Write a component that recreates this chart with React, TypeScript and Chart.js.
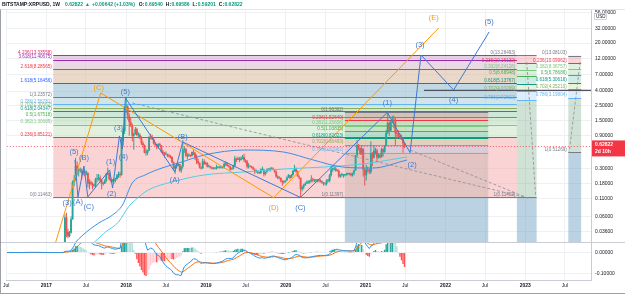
import { useEffect, useRef } from 'react';
import { Chart, registerables } from 'chart.js';

Chart.register(...registerables);

const FONT = 'Liberation Sans';
const TEXT = '#131722';
const UP = '#26a69a';
const DOWN = '#ef5350';
const WAVE_BLUE = '#3f78d0';
const WAVE_ORANGE = '#ff9800';

// ---- weekly XRPUSD bars (Bitstamp) ----
// Week 0 is Monday 2016-07-04; the first 35 weeks only warm up the MACD.
const FIRST_MONDAY = Date.UTC(2016, 6, 4);
const WEEK_MS = 7 * 86400000;

const WARMUP_CLOSES = [
  0.0065, 0.0063, 0.0062, 0.006, 0.006, 0.006, 0.0059, 0.006, 0.006, 0.0065, 0.007, 0.0082,
  0.0085, 0.0092, 0.0088, 0.0085, 0.0082, 0.008, 0.0078, 0.0076, 0.0074, 0.0072, 0.007, 0.0068,
  0.0066, 0.0064, 0.0065, 0.0066, 0.0066, 0.0065, 0.0064, 0.0063, 0.0063, 0.0064, 0.0064,
];

// 2017-03-06 … 2021-06-28
const WEEK_CLOSE = [
  // 2017
  0.0075, 0.0095, 0.015, 0.058, 0.036, 0.031, 0.035, 0.055, 0.19, 0.2, 0.33, 0.28, 0.28,
  0.28, 0.26, 0.27, 0.26, 0.26, 0.18, 0.19, 0.18, 0.17, 0.17, 0.21, 0.21, 0.22,
  0.2, 0.18, 0.18, 0.2, 0.25, 0.26, 0.21, 0.2, 0.2, 0.2, 0.21, 0.24, 0.25, 0.24, 0.75, 1.05, 2.3,
  // 2018
  2.4, 1.75, 1.42, 1.25, 0.9, 0.95, 1.12, 0.92, 0.92, 0.82, 0.7, 0.66, 0.51,
  0.51, 0.55, 0.85, 0.84, 0.79, 0.69, 0.66, 0.61, 0.68, 0.65, 0.53, 0.5, 0.48,
  0.48, 0.46, 0.45, 0.44, 0.37, 0.3, 0.33, 0.33, 0.35, 0.28, 0.32, 0.56, 0.58,
  0.46, 0.46, 0.47, 0.46, 0.52, 0.5, 0.44, 0.39, 0.36, 0.31, 0.3, 0.38, 0.35, 0.36,
  // 2019
  0.32, 0.32, 0.31, 0.3, 0.3, 0.3, 0.31, 0.31, 0.31, 0.31, 0.31, 0.35,
  0.35, 0.33, 0.32, 0.29, 0.3, 0.33, 0.42, 0.4, 0.42, 0.4, 0.42, 0.44, 0.4,
  0.38, 0.32, 0.33, 0.32, 0.31, 0.29, 0.27, 0.27, 0.26, 0.26, 0.29, 0.29, 0.25, 0.27,
  0.29, 0.29, 0.3, 0.3, 0.29, 0.27, 0.23, 0.22, 0.22, 0.2, 0.19, 0.19, 0.2,
  // 2020
  0.22, 0.24, 0.22, 0.24, 0.28, 0.3, 0.27, 0.23, 0.22, 0.15, 0.16, 0.17, 0.18,
  0.19, 0.19, 0.2, 0.21, 0.2, 0.2, 0.2, 0.21, 0.2, 0.19, 0.19, 0.18, 0.18,
  0.2, 0.2, 0.24, 0.29, 0.29, 0.3, 0.28, 0.28, 0.23, 0.24, 0.24, 0.24, 0.24,
  0.25, 0.25, 0.25, 0.24, 0.26, 0.28, 0.47, 0.65, 0.6, 0.5, 0.58, 0.29, 0.24,
  // 2021
  0.29, 0.28, 0.27, 0.5, 0.43, 0.55, 0.55, 0.43, 0.47, 0.44, 0.57, 0.52, 0.64,
  0.99, 1.38, 1.07, 1.45, 1.55, 1.45, 0.98, 0.96, 0.88, 0.86, 0.8, 0.6954, 0.62822,
];

const WEEK_HIGH = [
  // 2017
  0.008, 0.0105, 0.018, 0.065, 0.068, 0.04, 0.037, 0.06, 0.2, 0.24, 0.43, 0.38, 0.3,
  0.31, 0.3, 0.29, 0.28, 0.28, 0.26, 0.21, 0.2, 0.19, 0.18, 0.22, 0.25, 0.25,
  0.24, 0.21, 0.19, 0.21, 0.26, 0.31, 0.26, 0.22, 0.21, 0.22, 0.22, 0.25, 0.27, 0.27, 0.85, 1.15, 2.4,
  // 2018
  3.3, 2.5, 1.9, 1.62, 1.35, 1.0, 1.2, 1.17, 1.01, 0.98, 0.88, 0.74, 0.67,
  0.58, 0.56, 0.9, 0.96, 0.93, 0.86, 0.72, 0.66, 0.7, 0.71, 0.66, 0.56, 0.52,
  0.53, 0.49, 0.49, 0.47, 0.45, 0.38, 0.34, 0.35, 0.36, 0.35, 0.33, 0.78, 0.62,
  0.59, 0.5, 0.5, 0.48, 0.53, 0.56, 0.52, 0.48, 0.42, 0.37, 0.32, 0.42, 0.41, 0.38,
  // 2019
  0.37, 0.34, 0.33, 0.32, 0.31, 0.31, 0.34, 0.32, 0.32, 0.32, 0.32, 0.37,
  0.38, 0.37, 0.34, 0.33, 0.31, 0.34, 0.46, 0.43, 0.45, 0.44, 0.45, 0.47, 0.49,
  0.41, 0.4, 0.36, 0.33, 0.33, 0.32, 0.3, 0.29, 0.28, 0.27, 0.3, 0.32, 0.29, 0.27,
  0.3, 0.3, 0.31, 0.31, 0.31, 0.29, 0.28, 0.24, 0.23, 0.22, 0.2, 0.2, 0.2,
  // 2020
  0.23, 0.25, 0.24, 0.25, 0.28, 0.34, 0.31, 0.28, 0.24, 0.22, 0.17, 0.18, 0.19,
  0.2, 0.2, 0.2, 0.24, 0.22, 0.21, 0.21, 0.21, 0.21, 0.21, 0.2, 0.19, 0.18,
  0.21, 0.21, 0.25, 0.33, 0.31, 0.32, 0.32, 0.29, 0.29, 0.25, 0.26, 0.25, 0.25,
  0.26, 0.26, 0.26, 0.26, 0.26, 0.29, 0.47, 0.78, 0.68, 0.6, 0.65, 0.59, 0.3,
  // 2021
  0.34, 0.32, 0.3, 0.75, 0.52, 0.66, 0.6, 0.58, 0.5, 0.5, 0.6, 0.59, 0.66,
  1.1, 1.96, 1.45, 1.5, 1.75, 1.77, 1.63, 1.09, 1.08, 0.98, 0.93, 0.82, 0.69586,
];

const WEEK_LOW = [
  // 2017
  0.0063, 0.0072, 0.009, 0.014, 0.03, 0.029, 0.03, 0.034, 0.054, 0.165, 0.2, 0.24, 0.23,
  0.26, 0.21, 0.24, 0.23, 0.24, 0.16, 0.15, 0.17, 0.15, 0.16, 0.16, 0.19, 0.2,
  0.19, 0.15, 0.17, 0.18, 0.19, 0.24, 0.2, 0.19, 0.19, 0.18, 0.19, 0.21, 0.22, 0.22, 0.24, 0.65, 0.95,
  // 2018
  1.9, 1.55, 0.9, 1.2, 0.75, 0.56, 0.93, 0.88, 0.86, 0.8, 0.66, 0.6, 0.5,
  0.46, 0.47, 0.54, 0.8, 0.78, 0.67, 0.63, 0.57, 0.58, 0.64, 0.51, 0.48, 0.43,
  0.47, 0.44, 0.43, 0.42, 0.36, 0.28, 0.25, 0.3, 0.32, 0.27, 0.26, 0.3, 0.51,
  0.44, 0.41, 0.44, 0.44, 0.45, 0.47, 0.4, 0.35, 0.34, 0.3, 0.29, 0.3, 0.34, 0.34,
  // 2019
  0.31, 0.31, 0.3, 0.29, 0.29, 0.29, 0.29, 0.3, 0.3, 0.3, 0.3, 0.3,
  0.33, 0.32, 0.31, 0.28, 0.29, 0.29, 0.32, 0.37, 0.4, 0.37, 0.39, 0.41, 0.37,
  0.36, 0.3, 0.3, 0.31, 0.3, 0.29, 0.25, 0.26, 0.25, 0.25, 0.25, 0.28, 0.23, 0.24,
  0.26, 0.28, 0.27, 0.29, 0.29, 0.26, 0.22, 0.21, 0.21, 0.19, 0.17, 0.18, 0.19,
  // 2020
  0.2, 0.22, 0.21, 0.22, 0.24, 0.27, 0.26, 0.23, 0.21, 0.114, 0.14, 0.15, 0.17,
  0.18, 0.18, 0.18, 0.19, 0.19, 0.19, 0.19, 0.19, 0.19, 0.19, 0.18, 0.17, 0.17,
  0.17, 0.19, 0.19, 0.23, 0.27, 0.28, 0.27, 0.27, 0.22, 0.22, 0.23, 0.22, 0.23,
  0.24, 0.24, 0.24, 0.23, 0.23, 0.24, 0.28, 0.45, 0.55, 0.47, 0.47, 0.23, 0.17,
  // 2021
  0.2, 0.26, 0.25, 0.25, 0.33, 0.42, 0.48, 0.38, 0.42, 0.42, 0.43, 0.45, 0.51,
  0.63, 0.95, 0.9, 1.05, 1.35, 1.15, 0.65, 0.82, 0.86, 0.8, 0.78, 0.51, 0.59201,
];

// Moving averages on the price pane, [decimal year, price]
const SMA_100: [number, number][] = [
  [2017.272, 0.0196], [2017.458, 0.0324], [2017.656, 0.0484], [2017.83, 0.0633],
  [2017.954, 0.0885], [2018.077, 0.185], [2018.238, 0.242], [2018.449, 0.305],
  [2018.697, 0.373], [2018.981, 0.472], [2019.477, 0.557], [2019.972, 0.521],
  [2020.344, 0.399], [2020.715, 0.315], [2021.087, 0.305], [2021.52, 0.399],
];
const SMA_200: [number, number][] = [
  [2017.495, 0.0196], [2017.743, 0.0358], [2017.904, 0.0501], [2018.028, 0.0828],
  [2018.115, 0.1047], [2018.276, 0.146], [2018.573, 0.191], [2018.981, 0.242],
  [2019.477, 0.267], [2019.972, 0.295], [2020.467, 0.315], [2020.963, 0.349],
  [2021.52, 0.441],
];

// ---- axes ----
const X_MIN = 2016.50464;
const X_MAX = 2023.82353;
const PRICE_MIN = 0.02564;
const PRICE_MAX = 60.4;
const MACD_MIN = -0.131;
const MACD_MAX = 0.05;
const PRICE_TICKS = [56, 32, 20, 12, 7, 4, 2.5, 1.5, 0.9, 0.3, 0.18, 0.11, 0.06, 0.036];
const MACD_TICKS = [0, -0.1];
const TIME_TICKS = [
  '2016-07-01', '2017-01-01', '2017-07-01', '2018-01-01', '2018-07-01', '2019-01-01',
  '2019-07-01', '2020-01-01', '2020-07-01', '2021-01-01', '2021-07-01', '2022-01-01',
  '2022-07-01', '2023-01-01', '2023-07-01',
];
const TIME_LABELS = ['Jul', '2017', 'Jul', '2018', 'Jul', '2019', 'Jul', '2020', 'Jul', '2021', 'Jul', '2022', 'Jul', '2023', 'Jul'];

// ---- fibonacci tools ----
const LEVEL_COLORS: Record<string, string> = {
  '0': '#787b86', '0.236': '#f23645', '0.382': '#81c784', '0.5': '#4caf50', '0.618': '#089981',
  '0.702': '#8bb05a', '0.786': '#64b5f6', '1': '#787b86', '1.618': '#2962ff', '2.618': '#f23645',
  '3.618': '#9c27b0', '4.236': '#e91e63',
};
const WIDE_FILLS: Record<string, string> = {
  '0.236': 'rgba(245,169,169,0.5)', '0.382': 'rgba(197,227,191,0.5)', '0.5': 'rgba(171,215,173,0.5)',
  '0.618': 'rgba(155,209,179,0.5)', '0.702': 'rgba(159,205,177,0.5)', '0.786': 'rgba(171,209,193,0.5)',
  '1': 'rgba(161,201,213,0.5)', '1.618': 'rgba(131,179,201,0.5)', '2.618': 'rgba(213,177,147,0.5)',
  '3.618': 'rgba(205,170,192,0.45)', '4.236': 'rgba(200,150,190,0.45)',
};
const BOX_FILLS: Record<string, string> = {
  '0.236': 'rgba(242,54,69,0.22)', '0.382': 'rgba(129,199,132,0.25)', '0.5': 'rgba(76,175,80,0.2)',
  '0.618': 'rgba(8,153,129,0.2)', '0.702': 'rgba(139,195,74,0.2)', '0.786': 'rgba(100,181,246,0.22)',
  '1': 'rgba(120,130,120,0.18)',
};
const SIDE_FILLS: Record<string, string> = {
  ...BOX_FILLS,
  '1': 'rgba(95,160,115,0.3)',
};
const BOX_TAIL = 'rgba(118,165,196,0.5)';

const FIB_A_RATIOS = ['0', '0.236', '0.382', '0.5', '0.618', '0.702', '0.786', '1', '1.618', '2.618', '3.618', '4.236'];
const FIB_A_PRICES = [0.11463, 0.85121, 1.30689, 1.67518, 2.04347, 2.30562, 2.56781, 3.23572, 5.16456, 8.28565, 11.40675, 13.33558];
const FIB_A_SPAN = [2017.087, 2022.895];

const BOX_RATIOS = ['0', '0.236', '0.382', '0.5', '0.618', '0.702', '0.786', '1'];
const FIB_B_PRICES = [1.96382, 1.52649, 1.25656, 1.03835, 0.82023, 0.66493, 0.50962, 0.11397];
const FIB_B_SPAN = [2020.74, 2022.536];
const FIB_C_PRICES = [13.26493, 10.16132, 8.24128, 6.68948, 5.13767, 4.03299, 2.92832, 0.11402];
const FIB_C_SPAN = [2022.895, 2023.142];
const FIB_D_PRICES = [13.08103, 10.09962, 8.36757, 6.78686, 5.30616, 4.2521, 3.19804, 0.51269];
const FIB_D_SPAN = [2023.539, 2023.7];

const FIBS = [
  { ratios: FIB_A_RATIOS, prices: FIB_A_PRICES, span: FIB_A_SPAN, fills: WIDE_FILLS, tail: null as string | null },
  { ratios: BOX_RATIOS, prices: FIB_B_PRICES, span: FIB_B_SPAN, fills: BOX_FILLS, tail: BOX_TAIL },
  { ratios: BOX_RATIOS, prices: FIB_C_PRICES, span: FIB_C_SPAN, fills: SIDE_FILLS, tail: BOX_TAIL },
  { ratios: BOX_RATIOS, prices: FIB_D_PRICES, span: FIB_D_SPAN, fills: SIDE_FILLS, tail: BOX_TAIL },
];

// ---- wave counts and trend lines, [decimal year, price] ----
const BLUE_WAVE_PATH: [number, number][] = [
  [2017.359, 0.399], [2017.396, 0.116], [2017.471, 0.326], [2017.52, 0.116], [2017.793, 0.286],
  [2017.83, 0.156], [2017.916, 0.891], [2017.954, 0.577], [2017.991, 3.18], [2018.61, 0.267],
  [2018.709, 0.729], [2020.183, 0.114], [2021.272, 1.96], [2021.557, 0.51], [2021.694, 13.4],
  [2022.102, 4.15], [2022.548, 29.0],
];
const ORANGE_WAVE_PATH: [number, number][] = [
  [2017.099, 0.0217], [2017.681, 3.76], [2019.848, 0.113], [2021.916, 33.1],
];
const DASHED_LINES: [number, number][][] = [
  [[2018.077, 2.69], [2023.031, 0.112]],
  [[2021.557, 0.557], [2023.031, 0.112]],
  [[2023.019, 10.6], [2023.13, 0.12]],
  [[2023.687, 10.6], [2023.551, 0.521]],
];
const TARGET_LINE = { from: 2021.731, to: 2023.823, price: 4.1 };

const WAVE_LABELS: [string, number, number, string][] = [
  ['(3)', 2017.26, 0.0947, WAVE_BLUE], ['(A)', 2017.396, 0.0978, WAVE_BLUE], ['(C)', 2017.532, 0.0828, WAVE_BLUE],
  ['(5)', 2017.347, 0.521, WAVE_BLUE], ['(B)', 2017.471, 0.427, WAVE_BLUE], ['(1)', 2017.805, 0.373, WAVE_BLUE],
  ['(2)', 2017.817, 0.128, WAVE_BLUE], ['(3)', 2017.904, 1.16, WAVE_BLUE], ['(4)', 2017.966, 0.441, WAVE_BLUE],
  ['(5)', 2017.991, 3.88, WAVE_BLUE], ['(A)', 2018.61, 0.204, WAVE_BLUE], ['(B)', 2018.709, 0.856, WAVE_BLUE],
  ['(C)', 2020.183, 0.08, WAVE_BLUE], ['(1)', 2021.272, 2.69, WAVE_BLUE], ['(2)', 2021.582, 0.337, WAVE_BLUE],
  ['(3)', 2021.681, 18.7, WAVE_BLUE], ['(4)', 2022.102, 2.97, WAVE_BLUE], ['(5)', 2022.548, 40.5, WAVE_BLUE],
  ['(C)', 2017.656, 4.44, WAVE_ORANGE], ['(D)', 2019.848, 0.08, WAVE_ORANGE], ['(E)', 2021.854, 46.2, WAVE_ORANGE],
];

const LAST_PRICE = 0.62822;
const HEADER_PARTS: [string, string, number][] = [
  ['BITSTAMP:XRPUSD, 1W', TEXT, 5],
  ['0.62822', '#089981', 2],
  ['\u25B2', '#089981', 2],
  ['+0.00642 (+1.03%)', '#089981', 4],
  ['O:', TEXT, 0.4], ['0.69540', '#089981', 3],
  ['H:', TEXT, 0.4], ['0.69586', '#089981', 3],
  ['L:', TEXT, 0.4], ['0.59201', '#089981', 3],
  ['C:', TEXT, 0.4], ['0.62822', '#089981', 0],
];

function decimalYear(ms: number) {
  const y = new Date(ms).getUTCFullYear();
  const a = Date.UTC(y, 0, 1);
  const b = Date.UTC(y + 1, 0, 1);
  return y + (ms - a) / (b - a);
}
function dateToYear(s: string) {
  const [y, m, d] = s.split('-').map(Number);
  return decimalYear(Date.UTC(y, m - 1, d));
}
function ema(values: number[], n: number) {
  const k = 2 / (n + 1);
  const out: number[] = [];
  let prev = values[0];
  values.forEach((v, i) => {
    prev = i === 0 ? v : v * k + prev * (1 - k);
    out.push(prev);
  });
  return out;
}

const ALL_CLOSES = [...WARMUP_CLOSES, ...WEEK_CLOSE];
const ALL_TIMES = ALL_CLOSES.map((_, i) => decimalYear(FIRST_MONDAY + i * WEEK_MS));
const W = WARMUP_CLOSES.length;
const CANDLES = WEEK_CLOSE.map((c, i) => ({
  t: ALL_TIMES[W + i],
  o: ALL_CLOSES[W + i - 1],
  h: WEEK_HIGH[i],
  l: WEEK_LOW[i],
  c,
}));

const EMA12 = ema(ALL_CLOSES, 12);
const EMA26 = ema(ALL_CLOSES, 26);
const MACD = EMA12.map((v, i) => v - EMA26[i]);
const SIGNAL = ema(MACD, 9);
const HIST = MACD.map((v, i) => v - SIGNAL[i]);
const HIST_COLORS = HIST.map((h, i) => {
  const prev = i > 0 ? HIST[i - 1] : 0;
  if (h >= 0) return h >= prev ? '#26a69a' : '#b2dfdb';
  return h < prev ? '#ff5252' : '#ffcdd2';
});

const fontStr = (size: number, weight = 'normal') => `${weight} ${size}px ${FONT}`;

const drawings = {
  id: 'xrpDrawings',
  beforeDatasetsDraw(chart: any) {
    const { ctx, chartArea } = chart;
    const xs = chart.scales.x;
    const ys = chart.scales.y;
    const yOf = (p: number) => (p > 0 ? ys.getPixelForValue(p) : ys.bottom);
    ctx.save();
    ctx.beginPath();
    ctx.rect(chartArea.left, ys.top, chartArea.right - chartArea.left, ys.bottom - ys.top);
    ctx.clip();
    for (const fib of FIBS) {
      const x0 = xs.getPixelForValue(fib.span[0]);
      const x1 = xs.getPixelForValue(fib.span[1]);
      for (let i = 1; i < fib.prices.length; i++) {
        const a = yOf(fib.prices[i - 1]);
        const b = yOf(fib.prices[i]);
        ctx.fillStyle = fib.fills[fib.ratios[i]];
        ctx.fillRect(x0, Math.min(a, b), x1 - x0, Math.abs(b - a));
      }
      if (fib.tail) {
        const a = yOf(fib.prices[fib.prices.length - 1]);
        ctx.fillStyle = fib.tail;
        ctx.fillRect(x0, a, x1 - x0, ys.bottom - a);
      }
      ctx.lineWidth = 1;
      fib.prices.forEach((p, i) => {
        const y = Math.round(yOf(p)) + 0.5;
        ctx.strokeStyle = LEVEL_COLORS[fib.ratios[i]];
        ctx.beginPath();
        ctx.moveTo(x0, y);
        ctx.lineTo(x1, y);
        ctx.stroke();
      });
    }
    ctx.restore();
  },
  beforeDatasetDraw(chart: any, args: any) {
    const { ctx, chartArea } = chart;
    const s = chart.scales[args.meta.yAxisID];
    ctx.save();
    ctx.beginPath();
    ctx.rect(chartArea.left, s.top, chartArea.right - chartArea.left, s.bottom - s.top);
    ctx.clip();
  },
  afterDatasetDraw(chart: any) {
    chart.ctx.restore();
  },
  afterDatasetsDraw(chart: any) {
    const { ctx, chartArea } = chart;
    const xs = chart.scales.x;
    const ys = chart.scales.y;
    const X = (t: number) => xs.getPixelForValue(t);
    const Y = (p: number) => ys.getPixelForValue(p);
    ctx.save();
    ctx.beginPath();
    ctx.rect(chartArea.left, ys.top, chartArea.right - chartArea.left, ys.bottom - ys.top);
    ctx.clip();

    // trend lines
    ctx.setLineDash([3, 2]);
    ctx.strokeStyle = '#8a8d96';
    ctx.lineWidth = 0.8;
    for (const seg of DASHED_LINES) {
      ctx.beginPath();
      ctx.moveTo(X(seg[0][0]), Y(seg[0][1]));
      ctx.lineTo(X(seg[1][0]), Y(seg[1][1]));
      ctx.stroke();
    }
    // last price line
    ctx.setLineDash([1, 2]);
    ctx.strokeStyle = '#f23645';
    const yl = Math.round(Y(LAST_PRICE)) + 0.5;
    ctx.beginPath();
    ctx.moveTo(chartArea.left, yl);
    ctx.lineTo(chartArea.right, yl);
    ctx.stroke();
    ctx.setLineDash([]);

    // horizontal target
    ctx.strokeStyle = '#50535e';
    ctx.lineWidth = 1.2;
    const yt = Y(TARGET_LINE.price);
    ctx.beginPath();
    ctx.moveTo(X(TARGET_LINE.from), yt);
    ctx.lineTo(X(TARGET_LINE.to), yt);
    ctx.stroke();

    // wave paths
    const path = (pts: [number, number][], color: string) => {
      ctx.strokeStyle = color;
      ctx.lineWidth = 1;
      ctx.beginPath();
      pts.forEach(([t, p], i) => (i ? ctx.lineTo(X(t), Y(p)) : ctx.moveTo(X(t), Y(p))));
      ctx.stroke();
    };
    path(ORANGE_WAVE_PATH, WAVE_ORANGE);
    path(BLUE_WAVE_PATH, WAVE_BLUE);

    // fib labels
    ctx.font = fontStr(4.6);
    ctx.textAlign = 'right';
    ctx.textBaseline = 'bottom';
    for (const fib of FIBS) {
      const x0 = X(fib.span[0]) - 1.5;
      fib.prices.forEach((p, i) => {
        ctx.fillStyle = LEVEL_COLORS[fib.ratios[i]];
        ctx.fillText(`${fib.ratios[i]}(${p.toFixed(5)})`, x0, Y(p) - 0.3);
      });
    }

    // wave labels
    ctx.font = fontStr(7.5);
    ctx.textAlign = 'center';
    ctx.textBaseline = 'middle';
    for (const [txt, t, p, color] of WAVE_LABELS) {
      ctx.fillStyle = color;
      ctx.fillText(txt, X(t), Y(p));
    }
    ctx.restore();
  },
  afterDraw(chart: any) {
    const { ctx, chartArea, width, height } = chart;
    const ys = chart.scales.y;
    ctx.save();
    // pane separator
    ctx.strokeStyle = '#c9ccd3';
    ctx.lineWidth = 1;
    ctx.beginPath();
    ctx.moveTo(0, Math.round(ys.bottom) + 0.5);
    ctx.lineTo(width, Math.round(ys.bottom) + 0.5);
    ctx.stroke();

    // last price tag
    const yl = ys.getPixelForValue(LAST_PRICE);
    ctx.fillStyle = '#f23645';
    ctx.fillRect(chartArea.right + 1, yl - 6, width - chartArea.right - 1, 16);
    ctx.fillStyle = '#ffffff';
    ctx.font = fontStr(5, 'bold');
    ctx.textAlign = 'left';
    ctx.textBaseline = 'middle';
    ctx.fillText(LAST_PRICE.toFixed(5), chartArea.right + 4, yl - 1.5);
    ctx.fillText('2d 10h', chartArea.right + 4, yl + 5);

    // currency badge
    ctx.fillStyle = '#ffffff';
    ctx.strokeStyle = '#b2b5be';
    ctx.lineWidth = 0.6;
    ctx.fillRect(chartArea.right + 3, 13, 13, 7);
    ctx.strokeRect(chartArea.right + 3.5, 13.5, 12, 6);
    ctx.fillStyle = TEXT;
    ctx.font = fontStr(4.5);
    ctx.fillText('USD', chartArea.right + 5, 16.7);

    // header
    ctx.fillStyle = '#ffffff';
    ctx.fillRect(0, 0, width, 9);
    ctx.font = fontStr(5, 'bold');
    ctx.textBaseline = 'middle';
    let x = 2;
    for (const [txt, color, gap] of HEADER_PARTS) {
      ctx.fillStyle = color;
      ctx.fillText(txt, x, 4.8);
      x += ctx.measureText(txt).width + gap;
    }

    // frame
    ctx.strokeStyle = '#d1d4dc';
    ctx.beginPath();
    ctx.moveTo(0, 9.5);
    ctx.lineTo(width, 9.5);
    ctx.stroke();
    ctx.strokeStyle = '#5d606b';
    ctx.beginPath();
    ctx.moveTo(0.5, 9.5);
    ctx.lineTo(0.5, height - 1.5);
    ctx.lineTo(width, height - 1.5);
    ctx.stroke();
    ctx.restore();
  },
};

export default function App() {
  const ref = useRef<HTMLCanvasElement>(null);

  useEffect(() => {
    document.body.style.margin = '0';
    const canvas = ref.current;
    if (!canvas) return;

    const up = (c: any) => c.c >= c.o;
    const candleColors = CANDLES.map((c) => (up(c) ? UP : DOWN));

    const chart = new Chart(canvas, {
      type: 'bar',
      data: {
        datasets: [
          {
            type: 'line', label: 'SMA 100', yAxisID: 'y',
            data: SMA_100.map(([x, y]) => ({ x, y })),
            borderColor: '#3d8de6', borderWidth: 1, pointRadius: 0, cubicInterpolationMode: 'monotone',
          },
          {
            type: 'line', label: 'SMA 200', yAxisID: 'y',
            data: SMA_200.map(([x, y]) => ({ x, y })),
            borderColor: '#4fd0e4', borderWidth: 1, pointRadius: 0, cubicInterpolationMode: 'monotone',
          },
          {
            type: 'bar', label: 'body', yAxisID: 'y',
            data: CANDLES.map((c) => ({ x: c.t, y: [Math.min(c.o, c.c), Math.max(c.o, c.c)] })),
            backgroundColor: candleColors, barThickness: 1.9, grouped: false, minBarLength: 1,
            borderWidth: 0, inflateAmount: 0,
          },
          {
            type: 'bar', label: 'wick', yAxisID: 'y',
            data: CANDLES.map((c) => ({ x: c.t, y: [c.l, c.h] })),
            backgroundColor: candleColors, barThickness: 1, grouped: false,
            borderWidth: 0, inflateAmount: 0,
          },
          {
            type: 'line', label: 'MACD', yAxisID: 'm',
            data: MACD.map((v, i) => ({ x: ALL_TIMES[i], y: v })),
            borderColor: '#2196f3', borderWidth: 1, pointRadius: 0,
          },
          {
            type: 'line', label: 'Signal', yAxisID: 'm',
            data: SIGNAL.map((v, i) => ({ x: ALL_TIMES[i], y: v })),
            borderColor: '#ff6d00', borderWidth: 1, pointRadius: 0,
          },
          {
            type: 'bar', label: 'Histogram', yAxisID: 'm',
            data: HIST.map((v, i) => ({ x: ALL_TIMES[i], y: v })),
            backgroundColor: HIST_COLORS, barThickness: 1.4, grouped: false,
            borderWidth: 0, inflateAmount: 0,
          },
        ],
      } as any,
      options: {
        responsive: false,
        animation: false,
        devicePixelRatio: 1,
        events: [],
        layout: { padding: { top: 10, left: 0, right: 0, bottom: 0 }, autoPadding: false },
        plugins: { legend: { display: false }, tooltip: { enabled: false } },
        scales: {
          x: {
            type: 'linear',
            min: X_MIN,
            max: X_MAX,
            offset: false,
            afterFit: (s: any) => { s.height = 15; },
            afterBuildTicks: (s: any) => { s.ticks = TIME_TICKS.map((d) => ({ value: dateToYear(d) })); },
            grid: { color: '#eef0f4', drawTicks: false, offset: false },
            border: { color: '#c9ccd3' },
            ticks: {
              autoSkip: false, maxRotation: 0, minRotation: 0, padding: 3, color: TEXT,
              font: (ctx: any) => ({ family: FONT, size: 5, weight: ctx.index % 2 === 1 ? 'bold' : 'normal' }),
              callback: (_v: any, i: number) => TIME_LABELS[i],
            },
          },
          y: {
            type: 'logarithmic',
            position: 'right',
            stack: 'panes',
            stackWeight: 232,
            min: PRICE_MIN,
            max: PRICE_MAX,
            afterFit: (s: any) => { s.width = 34; },
            afterBuildTicks: (s: any) => { s.ticks = PRICE_TICKS.map((v) => ({ value: v })); },
            grid: { color: '#eef0f4', drawTicks: false },
            border: { color: '#c9ccd3' },
            ticks: {
              padding: 4, color: TEXT, font: { family: FONT, size: 5 },
              callback: (v: any) => Number(v).toFixed(5),
            },
          },
          m: {
            type: 'linear',
            position: 'right',
            stack: 'panes',
            stackWeight: 38,
            min: MACD_MIN,
            max: MACD_MAX,
            afterFit: (s: any) => { s.width = 34; },
            afterBuildTicks: (s: any) => { s.ticks = MACD_TICKS.map((v) => ({ value: v })); },
            grid: { color: '#eef0f4', drawTicks: false },
            border: { color: '#c9ccd3' },
            ticks: {
              padding: 4, color: TEXT, font: { family: FONT, size: 5 },
              callback: (v: any) => Number(v).toFixed(5),
            },
          },
        },
      } as any,
      plugins: [drawings],
    });
    return () => chart.destroy();
  }, []);

  return <canvas ref={ref} width={625} height={295} style={{ display: 'block', width: 625, height: 295 }} />;
}
